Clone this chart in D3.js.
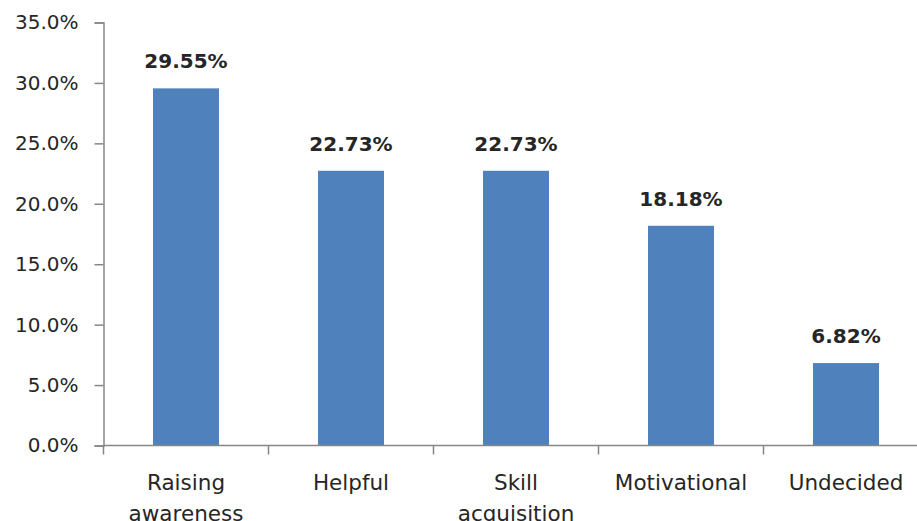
<!DOCTYPE html>
<html lang="en">
<head>
    <meta charset="UTF-8">
    <script src="https://d3js.org/d3.v7.min.js"></script>
    <title>Responses</title>
    <style>
        body { margin: 0; background: #fff; }
        svg { display: block; }
        text { font-family: "DejaVu Sans", Verdana, sans-serif; fill: #262626; }
    </style>
</head>
<body>
    <svg width="917" height="521"></svg>
    <script>
        const categories = [['Raising', 'awareness'], ['Helpful'], ['Skill', 'acquisition'], ['Motivational'], ['Undecided']];
        const values = [29.55, 22.73, 22.73, 18.18, 6.82];
        const yTicks = [0, 5, 10, 15, 20, 25, 30, 35];

        const margin = { top: 22.5, left: 103.5, bottom: 75.5 };
        const height = 521;
        const bandStep = 165;

        const svg = d3.select('svg');
        const keys = categories.map(c => c.join(' '));

        const xScale = d3.scaleBand()
            .domain(keys)
            .range([margin.left, margin.left + bandStep * keys.length])
            .paddingInner(0.6)
            .paddingOuter(0.3);

        const yScale = d3.scaleLinear()
            .domain([0, 35])
            .range([height - margin.bottom, margin.top]);

        // bars
        svg.selectAll('rect.bar')
            .data(values)
            .enter().append('rect')
            .attr('class', 'bar')
            .attr('x', (d, i) => xScale(keys[i]))
            .attr('y', d => yScale(d))
            .attr('width', xScale.bandwidth())
            .attr('height', d => yScale(0) - yScale(d))
            .attr('fill', '#4f81bd');

        // value labels
        svg.selectAll('text.val')
            .data(values)
            .enter().append('text')
            .attr('class', 'val')
            .attr('x', (d, i) => xScale(keys[i]) + xScale.bandwidth() / 2)
            .attr('y', d => yScale(d) - 20)
            .attr('text-anchor', 'middle')
            .style('font-size', '20px')
            .style('font-weight', 'bold')
            .text(d => d.toFixed(2) + '%');

        // y axis
        const yAxis = d3.axisLeft(yScale)
            .tickValues(yTicks)
            .tickSize(9)
            .tickPadding(16)
            .tickFormat(d => d.toFixed(1) + '%');

        const gy = svg.append('g')
            .attr('transform', `translate(${margin.left}, 0)`)
            .call(yAxis);
        gy.select('.domain').attr('stroke', '#868686').attr('stroke-width', 1.5);
        gy.selectAll('.tick line').attr('stroke', '#868686').attr('stroke-width', 1.5);
        gy.selectAll('.tick text')
            .style('font-size', '20px')
            .style('font-family', '"DejaVu Sans", Verdana, sans-serif')
            .attr('fill', '#262626');

        // x axis line and boundary ticks
        const x0 = xScale.range()[0];
        const gx = svg.append('g');
        gx.append('line')
            .attr('x1', x0)
            .attr('x2', xScale.range()[1])
            .attr('y1', yScale(0))
            .attr('y2', yScale(0))
            .attr('stroke', '#868686')
            .attr('stroke-width', 1.5);
        gx.selectAll('line.tk')
            .data(d3.range(keys.length + 1))
            .enter().append('line')
            .attr('class', 'tk')
            .attr('x1', i => x0 + i * xScale.step())
            .attr('x2', i => x0 + i * xScale.step())
            .attr('y1', yScale(0))
            .attr('y2', yScale(0) + 9)
            .attr('stroke', '#868686')
            .attr('stroke-width', 1.5);

        // category labels
        const labels = gx.selectAll('text.cat')
            .data(categories)
            .enter().append('text')
            .attr('class', 'cat')
            .attr('text-anchor', 'middle')
            .style('font-size', '21.5px')
            .attr('transform', (d, i) => `translate(${xScale(keys[i]) + xScale.bandwidth() / 2}, ${yScale(0) + 44})`);
        labels.selectAll('tspan')
            .data(d => d)
            .enter().append('tspan')
            .attr('x', 0)
            .attr('y', (d, i) => i * 31)
            .text(d => d);
    </script>
</body>
</html>
